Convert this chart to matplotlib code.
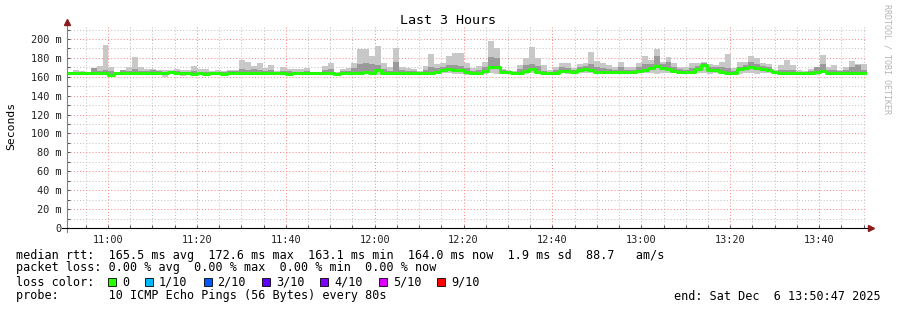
import numpy as np
import pandas as pd
import matplotlib
matplotlib.use('Agg')
import matplotlib.pyplot as plt
import matplotlib.dates as mdates
from matplotlib.lines import Line2D
from matplotlib.patches import Rectangle

W, H = 897, 310
MONO = 'DejaVu Sans Mono'

# 80 s steps, 10:50:47 -> 13:50:47
start = '2025-12-06 10:50:47'
step_s = 80

# median rtt per step (ms)
med = [
    163.7, 164.4, 163.7, 163.7, 163.7, 163.7, 163.7, 162.3, 163.7, 163.7,
    163.7, 163.7, 163.7, 163.7, 163.7, 164.4, 163.7, 164.7, 163.7, 163.7,
    163.7, 163.0, 163.7, 162.6, 163.7, 163.7, 162.6, 164.4, 163.7, 163.7,
    163.7, 163.7, 163.7, 163.7, 163.7, 163.7, 163.7, 163.4, 163.7, 163.7,
    163.7, 164.4, 164.4, 163.7, 163.7, 162.6, 163.7, 163.7, 163.7, 164.0,
    164.7, 164.4, 166.8, 163.7, 163.7, 164.4, 164.4, 163.7, 164.4, 164.4,
    163.7, 164.4, 165.4, 166.8, 167.9, 166.8, 167.2, 165.4, 164.4, 164.4,
    166.1, 170.7, 170.7, 165.4, 165.1, 163.7, 164.4, 166.1, 167.9, 165.4,
    163.7, 163.7, 164.4, 166.1, 166.1, 165.4, 167.2, 167.9, 167.2, 165.4,
    165.4, 165.4, 164.7, 165.4, 165.4, 164.7, 166.1, 167.2, 168.9, 171.4,
    169.6, 167.9, 166.1, 165.4, 164.7, 164.7, 167.9, 172.5, 167.2, 167.2,
    165.4, 164.4, 164.4, 167.9, 168.9, 170.0, 169.6, 167.9, 166.8, 165.4,
    164.4, 163.7, 164.4, 163.7, 163.7, 163.7, 165.1, 166.1, 164.4, 163.7,
    164.4, 163.7, 163.7, 163.7, 163.7,
]

# top of the smoke (slowest ping)
top = [
    165.5, 167.2, 166.1, 165.0, 168.9, 171.8, 193.6, 170.0, 164.7, 167.2,
    170.7, 181.3, 170.7, 167.9, 167.9, 167.2, 167.2, 167.2, 168.2, 167.2,
    167.2, 171.8, 168.2, 167.9, 166.1, 167.2, 166.1, 167.2, 167.2, 177.8,
    176.0, 171.4, 174.3, 168.9, 172.5, 166.1, 170.7, 167.9, 167.9, 167.9,
    168.9, 165.5, 165.5, 171.4, 175.0, 164.7, 167.9, 168.9, 175.0, 189.1,
    189.1, 182.1, 192.6, 175.0, 170.0, 190.1, 170.0, 168.9, 167.9, 166.1,
    171.4, 184.1, 173.6, 175.0, 182.4, 185.6, 185.6, 174.3, 168.9, 171.4,
    176.0, 197.9, 190.1, 167.9, 167.2, 166.1, 172.5, 179.5, 191.9, 179.5,
    172.5, 167.2, 170.0, 175.0, 174.3, 168.9, 173.6, 175.0, 186.6, 177.1,
    174.3, 172.5, 170.7, 176.0, 170.0, 170.0, 175.0, 182.1, 177.8, 189.1,
    176.0, 181.3, 174.3, 170.0, 170.0, 174.3, 175.0, 176.0, 173.6, 172.5,
    176.0, 184.1, 168.9, 176.0, 176.0, 182.1, 179.5, 174.3, 173.6, 167.2,
    172.5, 177.8, 172.5, 167.2, 166.1, 167.9, 170.7, 183.1, 170.7, 172.5,
    167.2, 170.7, 177.1, 173.6, 173.6,
]

# upper edge of the denser (darker) smoke
hi = [
    165.0, 165.5, 165.0, 164.5, 168.9, 166.0, 167.0, 166.0, 164.5, 167.2,
    166.0, 168.0, 166.0, 166.0, 167.0, 166.0, 165.0, 166.0, 166.0, 165.5,
    165.5, 166.0, 165.5, 165.0, 165.0, 165.5, 165.0, 166.0, 166.0, 168.0,
    167.5, 168.0, 167.0, 166.0, 167.0, 165.0, 166.5, 166.0, 165.5, 165.5,
    166.0, 165.0, 165.0, 167.0, 168.0, 164.0, 166.5, 166.5, 169.0, 174.0,
    174.5, 174.0, 172.0, 168.0, 166.0, 176.0, 167.0, 166.0, 166.0, 165.5,
    167.0, 170.0, 169.5, 170.0, 172.0, 172.5, 171.0, 169.0, 166.5, 167.5,
    170.5, 181.0, 180.0, 167.0, 166.5, 165.0, 168.0, 172.0, 174.0, 171.0,
    166.5, 165.5, 167.0, 170.0, 169.5, 167.5, 170.0, 171.0, 174.0, 170.5,
    169.0, 168.5, 167.5, 170.0, 167.5, 167.5, 170.5, 174.0, 174.0, 182.0,
    174.0, 175.5, 170.0, 168.0, 167.5, 169.0, 171.0, 175.0, 170.5, 170.0,
    170.0, 169.0, 166.5, 170.5, 172.0, 176.0, 174.0, 171.0, 170.0, 166.5,
    167.0, 167.0, 167.0, 165.5, 165.5, 166.0, 170.5, 174.0, 167.5, 167.0,
    166.0, 167.0, 170.0, 172.0, 167.0,
]

# bottom of the smoke (fastest ping)
lo = [
    162.0, 163.0, 162.5, 162.5, 162.5, 163.0, 163.0, 161.0, 162.5, 162.5,
    162.5, 162.5, 162.5, 162.5, 162.5, 163.0, 160.0, 163.0, 162.0, 161.0,
    162.5, 161.5, 162.5, 161.5, 162.5, 162.5, 161.5, 163.0, 162.5, 162.5,
    162.5, 161.5, 161.5, 162.5, 162.5, 162.5, 162.5, 161.5, 162.5, 162.5,
    162.5, 163.0, 163.0, 162.5, 162.5, 161.0, 162.5, 162.5, 162.5, 162.5,
    162.5, 162.5, 161.5, 162.5, 162.0, 162.5, 162.5, 162.5, 163.0, 163.0,
    162.5, 162.5, 163.0, 163.5, 164.0, 163.0, 163.0, 162.0, 162.5, 162.5,
    163.0, 163.5, 163.0, 163.0, 163.0, 162.0, 162.5, 163.0, 164.0, 163.0,
    162.0, 162.0, 162.5, 163.5, 163.0, 163.0, 164.0, 164.0, 164.0, 163.0,
    163.0, 163.0, 163.0, 163.0, 163.0, 162.5, 163.5, 163.5, 164.5, 163.0,
    164.0, 164.0, 163.5, 163.0, 163.0, 163.0, 163.5, 164.0, 162.5, 163.5,
    163.0, 162.5, 162.5, 163.0, 163.5, 164.0, 163.0, 163.5, 163.5, 163.0,
    162.5, 162.0, 162.5, 162.5, 162.5, 162.5, 162.0, 163.5, 162.5, 162.5,
    162.5, 162.5, 162.5, 162.5, 162.5,
]

ytick_vals = [0, 20, 40, 60, 80, 100, 120, 140, 160, 180, 200]
ytick_labels = ['0', '20 m', '40 m', '60 m', '80 m', '100 m', '120 m',
                '140 m', '160 m', '180 m', '200 m']

loss_labels = ['0', '1/10', '2/10', '3/10', '4/10', '5/10', '9/10']
loss_colors = ['#26ff00', '#00b8ff', '#0059ff', '#5e00ff', '#7e00ff',
               '#dd00ff', '#ff0000']

stats_line = ('median rtt:  165.5 ms avg  172.6 ms max  163.1 ms min  '
              '164.0 ms now  1.9 ms sd  88.7   am/s')
loss_line = 'packet loss: 0.00 % avg  0.00 % max  0.00 % min  0.00 % now'
probe_line = 'probe:       10 ICMP Echo Pings (56 Bytes) every 80s'
end_line = 'end: Sat Dec  6 13:50:47 2025'


def fx(x):
    return x / W


def fy(y):
    return 1 - y / H


def edges(v):
    return np.append(v, v[-1])


t = pd.date_range(start, periods=len(med) + 1, freq=f'{step_s}s')

fig = plt.figure(figsize=(W / 100, H / 100), dpi=100)
fig.patch.set_facecolor('white')
ax = fig.add_axes([fx(67), fy(228), 800 / W, 203.2 / H])
ax.set_facecolor('white')

# smoke
ax.fill_between(t, edges(lo), edges(top), step='post', color='#c8c8c8', lw=0)
ax.fill_between(t, edges(np.array(med) - 0.8), edges(hi), step='post',
                color='#9a9a9a', lw=0)
# median
ax.step(t, edges(med), where='post', color='#22ff00', lw=2.2)

ax.set_xlim(t[0], t[-1])
ax.set_ylim(0, 215)

ax.xaxis.set_major_locator(mdates.MinuteLocator(byminute=[0, 20, 40]))
ax.xaxis.set_minor_locator(mdates.MinuteLocator(byminute=range(0, 60, 5)))
ax.xaxis.set_major_formatter(mdates.DateFormatter('%H:%M'))
ax.set_yticks(ytick_vals)
ax.set_yticklabels(ytick_labels)
ax.set_yticks(range(10, 215, 20), minor=True)

ax.set_axisbelow(True)
ax.grid(which='major', color='#ff8c8c', lw=0.75, ls=(0, (1, 2)))
ax.grid(which='minor', color='#c4c4c4', lw=0.75, ls=(0, (1, 2)))
for s in ax.spines.values():
    s.set_visible(False)

ax.tick_params(axis='both', which='both', direction='in', length=2,
               color='#555555', width=0.75)
ax.tick_params(axis='y', pad=4, labelsize=7.4, labelcolor='#222222')
ax.tick_params(axis='x', pad=5, labelsize=7.4, labelcolor='#222222')
for lab in ax.get_xticklabels() + ax.get_yticklabels():
    lab.set_family(MONO)

# axes lines with arrows
fig.add_artist(Line2D([fx(67), fx(67)], [fy(232), fy(23)], color='#808080', lw=0.8))
fig.add_artist(Line2D([fx(62), fx(869)], [fy(228), fy(228)], color='black', lw=0.8))
fig.add_artist(Line2D([fx(67)], [fy(22)], marker='^', ms=4.5, color='#8b1a1a'))
fig.add_artist(Line2D([fx(871)], [fy(228)], marker='>', ms=4.5, color='#8b1a1a'))

fig.text(fx(448), fy(20), 'Last 3 Hours', family=MONO, fontsize=9.6,
         ha='center', va='center')
fig.text(fx(11), fy(126), 'Seconds', family=MONO, fontsize=8.2,
         rotation=90, ha='center', va='center')
fig.text(fx(887), fy(4), 'RRDTOOL / TOBI OETIKER', family=MONO, fontsize=6,
         color='#b4b4b4', rotation=270, ha='center', va='top')

# legend
fs = 8.5
fig.text(fx(16), fy(255), stats_line, family=MONO, fontsize=fs, va='center')
fig.text(fx(16), fy(268), loss_line, family=MONO, fontsize=fs, va='center')
fig.text(fx(16), fy(282), 'loss color:', family=MONO, fontsize=fs, va='center')
x = 108
for lab, col in zip(loss_labels, loss_colors):
    fig.add_artist(Rectangle((fx(x), fy(286)), 8 / W, 8 / H, facecolor=col,
                             edgecolor='black', lw=0.6))
    fig.text(fx(x + 14), fy(282), lab, family=MONO, fontsize=fs, va='center')
    x += 14 + len(lab) * 7.1 + 16
fig.text(fx(16), fy(296), probe_line, family=MONO, fontsize=fs, va='center')
fig.text(fx(881), fy(296), end_line, family=MONO, fontsize=fs,
         va='center', ha='right')

fig.savefig('out.png', dpi=100)
